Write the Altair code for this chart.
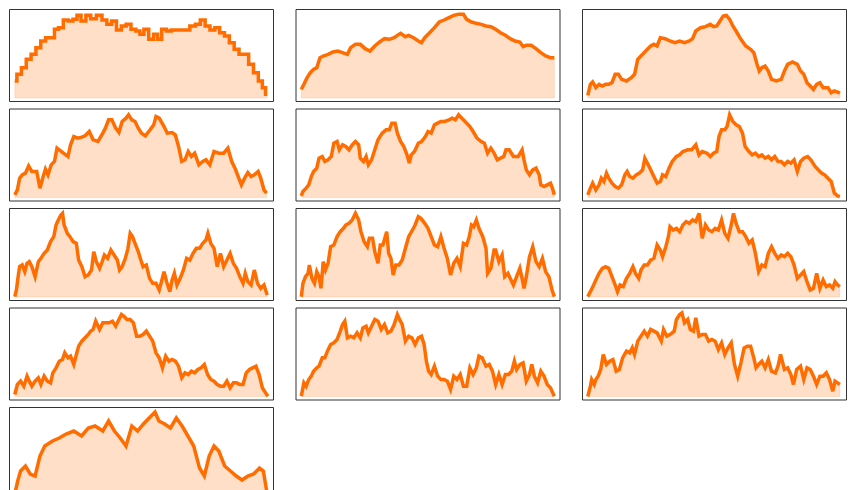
import altair as alt
import pandas as pd

# Each panel: (position, level) pairs
walk_01 = [(27,51),(40,71),(55,91),(70,116),(85,131),(100,151),(115,171),(130,181),(145,181),(155,206),(170,211),(185,234),(200,231),(215,236),(225,248),(240,231),(255,248),(270,238),(290,248),(305,234),(320,221),(335,231),(350,204),(365,216),(380,221),(395,206),(410,201),(420,191),(435,206),(450,176),(465,191),(475,176),(490,206),(505,201),(520,204),(540,204),(560,204),(580,216),(595,221),(610,234),(625,216),(640,204),(655,211),(670,196),(685,186),(700,166),(715,146),(730,131),(745,131),(760,101),(775,76),(790,51),(800,31),(810,11)]
walk_02 = [(27,26),(35,41),(45,61),(55,76),(65,86),(75,91),(85,121),(95,126),(110,131),(125,138),(140,141),(155,136),(170,131),(180,151),(195,161),(210,161),(225,148),(240,141),(255,156),(270,168),(285,178),(300,176),(315,181),(325,188),(335,194),(350,184),(360,188),(375,181),(390,171),(400,166),(410,181),(425,196),(440,211),(455,228),(470,234),(485,241),(500,248),(515,251),(530,251),(540,236),(555,228),(570,224),(585,221),(600,216),(615,214),(630,206),(645,196),(660,188),(675,178),(690,171),(705,168),(715,154),(725,158),(740,158),(755,148),(770,136),(785,126),(800,121),(812,121)]
walk_03 = [(27,8),(35,41),(42,48),(52,31),(62,41),(72,36),(82,41),(92,41),(102,46),(112,71),(122,71),(132,56),(147,51),(162,61),(172,71),(182,116),(197,131),(212,146),(222,156),(232,161),(242,156),(252,181),(267,178),(282,171),(297,166),(312,171),(327,166),(342,171),(352,178),(362,201),(377,211),(392,214),(407,221),(417,214),(427,216),(437,231),(447,246),(457,248),(467,236),(477,216),(487,201),(502,176),(517,156),(532,146),(542,136),(552,101),(559,81),(567,91),(577,96),(587,81),(597,56),(612,51),(627,56),(637,81),(647,101),(662,108),(677,101),(687,81),(697,71),(707,46),(717,36),(727,26),(737,41),(747,46),(757,31),(772,31),(782,16),(792,21),(802,18),(809,14)]
walk_04 = [(27,8),(35,23),(42,58),(50,68),(60,73),(70,95),(80,78),(95,78),(105,28),(115,63),(122,85),(130,68),(140,98),(150,108),(158,148),(165,143),(178,133),(192,123),(200,158),(210,183),(222,178),(235,181),(245,185),(258,198),(270,173),(285,168),(300,193),(308,208),(318,233),(328,233),(340,208),(350,195),(360,228),(372,238),(380,248),(390,233),(400,228),(410,208),(420,193),(432,185),(445,201),(458,218),(465,243),(475,238),(490,213),(500,193),(515,195),(525,188),(535,153),(545,108),(555,113),(565,138),(575,123),(585,133),(598,98),(610,108),(620,113),(632,98),(645,138),(660,133),(675,133),(688,148),(700,108),(710,88),(720,63),(730,38),(740,58),(750,75),(760,63),(770,68),(782,78),(790,58),(800,23),(808,13)]
walk_05 = [(27,5),(32,18),(42,28),(50,38),(58,63),(65,78),(75,88),(82,118),(92,123),(100,108),(110,113),(120,123),(128,163),(138,168),(145,143),(155,158),(165,153),(175,143),(185,158),(195,168),(205,158),(210,118),(220,108),(228,123),(235,98),(245,113),(255,143),(265,173),(278,193),(290,203),(300,203),(308,223),(318,223),(325,193),(335,168),(345,153),(355,128),(362,103),(368,128),(378,138),(390,163),(400,168),(412,183),(420,198),(430,193),(440,218),(450,223),(460,228),(472,228),(485,233),(495,238),(505,233),(515,248),(525,238),(535,228),(550,213),(560,198),(572,178),(585,168),(595,163),(605,133),(615,148),(625,133),(635,113),(645,118),(655,123),(662,143),(672,143),(685,123),(700,123),(712,143),(718,113),(725,83),(735,68),(745,83),(755,88),(765,68),(770,38),(780,33),(790,38),(800,43),(806,28),(812,8)]
walk_06 = [(27,8),(35,28),(42,43),(52,23),(62,38),(69,58),(77,48),(85,73),(92,58),(102,43),(112,33),(122,28),(132,38),(142,68),(149,78),(157,63),(167,58),(177,68),(187,73),(197,83),(204,118),(212,103),(222,83),(232,63),(242,43),(252,48),(259,68),(269,63),(279,88),(289,108),(302,123),(312,128),(322,138),(337,143),(349,143),(362,158),(372,128),(382,138),(397,133),(407,123),(417,133),(427,138),(434,183),(442,203),(452,203),(459,213),(467,248),(477,228),(487,218),(497,213),(507,193),(515,153),(527,138),(537,128),(547,133),(557,123),(567,128),(577,118),(587,123),(597,113),(607,123),(617,108),(627,108),(637,98),(647,108),(657,103),(667,113),(677,78),(687,108),(697,118),(709,123),(719,113),(732,93),(742,83),(752,73),(762,68),(772,58),(782,48),(792,13),(802,5),(809,3)]
walk_07 = [(27,1),(32,21),(38,66),(42,91),(50,96),(58,76),(65,101),(72,106),(80,91),(90,61),(100,106),(108,116),(118,131),(128,141),(138,166),(148,181),(155,216),(162,231),(170,246),(175,251),(180,216),(190,191),(198,181),(208,166),(218,161),(225,111),(235,91),(245,61),(255,66),(265,81),(272,136),(280,106),(290,86),(298,106),(305,126),(315,116),(325,141),(335,126),(345,111),(352,81),(360,91),(370,116),(378,146),(385,191),(392,181),(400,161),(410,136),(418,111),(425,91),(435,96),(445,56),(455,41),(465,41),(475,21),(482,46),(490,76),(498,46),(508,16),(515,51),(522,71),(530,36),(540,56),(550,81),(560,116),(570,111),(580,131),(590,146),(600,146),(610,161),(620,171),(626,191),(635,161),(645,146),(655,91),(665,131),(675,91),(685,111),(695,131),(705,101),(715,86),(725,61),(735,41),(742,71),(750,46),(760,36),(770,81),(780,41),(790,26),(800,36),(810,6)]
walk_08 = [(27,1),(32,41),(40,61),(48,71),(52,96),(60,56),(68,41),(75,76),(82,61),(88,26),(95,106),(102,81),(110,101),(118,151),(128,156),(138,181),(148,196),(158,206),(165,216),(175,221),(185,231),(195,251),(205,231),(212,196),(222,166),(232,151),(238,176),(248,176),(255,136),(265,101),(272,156),(280,156),(292,196),(298,131),(305,116),(312,66),(320,96),(330,96),(340,111),(350,146),(360,181),(372,201),(380,216),(390,241),(398,236),(410,221),(420,206),(430,181),(440,156),(450,151),(460,181),(470,146),(480,116),(490,66),(500,101),(510,116),(520,91),(530,161),(540,156),(548,181),(555,216),(562,211),(570,231),(578,206),(590,181),(600,146),(605,71),(615,86),(625,141),(630,141),(640,106),(650,126),(658,61),(668,71),(675,56),(685,36),(695,61),(705,86),(712,56),(718,26),(725,61),(735,121),(745,151),(755,106),(765,91),(775,116),(785,76),(795,61),(805,21),(812,1)]
walk_09 = [(27,1),(35,16),(45,36),(52,51),(62,71),(72,86),(82,91),(92,86),(102,61),(112,36),(119,16),(127,36),(137,31),(147,56),(157,71),(167,91),(175,71),(185,56),(192,81),(202,96),(212,96),(222,111),(232,116),(242,156),(252,141),(259,121),(269,151),(277,181),(282,211),(292,201),(302,206),(312,196),(322,216),(332,226),(342,221),(352,231),(362,226),(372,251),(382,176),(392,216),(402,201),(412,196),(422,206),(432,201),(442,231),(452,191),(462,176),(472,216),(479,251),(487,221),(497,196),(507,196),(517,181),(527,161),(537,171),(547,131),(557,76),(567,96),(577,91),(587,131),(597,151),(607,131),(617,116),(627,126),(637,121),(647,131),(657,121),(667,96),(677,56),(687,66),(697,76),(707,46),(717,21),(727,26),(737,71),(747,26),(757,51),(767,31),(777,36),(787,26),(794,46),(802,36),(809,31)]
walk_10 = [(27,6),(35,36),(45,46),(55,31),(65,61),(72,46),(80,31),(90,46),(100,56),(108,36),(118,61),(128,46),(138,41),(145,71),(155,86),(165,106),(175,111),(182,131),(192,116),(200,121),(210,96),(218,126),(225,151),(235,166),(245,176),(255,186),(262,196),(270,201),(278,226),(290,201),(300,221),(310,221),(320,221),(330,226),(340,211),(350,231),(358,246),(365,241),(375,231),(385,231),(395,221),(405,181),(415,181),(425,186),(435,196),(445,181),(455,166),(465,131),(475,116),(485,86),(495,121),(505,106),(515,111),(525,106),(535,91),(545,56),(555,71),(565,66),(575,76),(585,71),(595,81),(605,86),(615,96),(625,66),(635,51),(645,46),(655,36),(665,31),(675,31),(685,46),(695,26),(705,41),(715,41),(725,36),(735,36),(745,71),(755,81),(765,86),(775,91),(785,66),(795,26),(805,11),(812,1)]
walk_11 = [(27,1),(35,41),(42,31),(50,51),(58,61),(65,76),(75,86),(82,91),(92,116),(100,116),(108,136),(118,156),(128,161),(138,171),(148,196),(155,216),(162,226),(170,176),(180,181),(190,176),(200,191),(210,176),(218,206),(228,211),(235,191),(245,211),(255,231),(265,226),(275,201),(285,216),(295,191),(305,196),(315,216),(325,246),(332,231),(340,216),(350,166),(360,181),(370,176),(380,156),(390,176),(400,181),(408,156),(415,106),(422,76),(430,66),(440,91),(450,61),(460,51),(470,51),(480,46),(490,21),(500,61),(510,51),(520,66),(530,31),(540,31),(550,86),(560,66),(570,86),(578,121),(588,116),(600,91),(610,96),(620,76),(630,36),(640,66),(650,36),(660,66),(670,66),(680,76),(688,106),(695,81),(705,96),(715,101),(725,46),(735,66),(742,96),(750,61),(760,41),(770,76),(780,61),(790,36),(800,26),(812,1)]
walk_12 = [(27,0),(35,31),(39,51),(47,36),(52,51),(59,61),(67,81),(75,126),(85,96),(95,106),(105,111),(115,76),(125,81),(135,116),(147,136),(157,131),(165,146),(172,126),(182,166),(192,181),(202,196),(212,181),(222,201),(232,196),(242,191),(255,166),(262,201),(272,181),(282,186),(295,196),(302,231),(312,246),(319,251),(327,221),(337,231),(345,201),(355,196),(362,236),(372,181),(382,186),(392,186),(402,166),(412,171),(422,166),(432,141),(442,161),(452,126),(462,146),(472,161),(482,96),(492,61),(502,101),(512,146),(522,151),(532,151),(542,116),(549,86),(557,96),(567,106),(577,86),(587,111),(597,76),(609,71),(617,91),(625,126),(637,81),(647,86),(657,66),(665,36),(675,81),(687,91),(697,51),(707,86),(717,81),(727,61),(737,36),(747,61),(757,61),(767,71),(777,51),(787,16),(794,46),(802,41),(809,36)]
walk_13 = [(27,6),(36,45),(45,75),(60,90),(75,66),(90,60),(105,120),(120,150),(144,165),(165,174),(186,186),(210,195),(234,180),(255,204),(276,210),(300,195),(318,225),(336,195),(354,174),(372,150),(390,210),(408,195),(426,216),(444,234),(462,252),(474,225),(492,216),(510,204),(528,234),(546,210),(564,180),(582,150),(600,84),(615,60),(630,120),(645,150),(660,135),(678,90),(696,75),(714,60),(732,48),(750,60),(768,66),(786,84),(798,75),(810,6)]

walks = [walk_01, walk_02, walk_03, walk_04, walk_05, walk_06, walk_07,
         walk_08, walk_09, walk_10, walk_11, walk_12, walk_13]

LINE = "#ff6d00"
FILL = "#ffdfc8"


def panel(i, pts):
    df = pd.DataFrame(pts, columns=["t", "v"])
    interp = "step" if i == 0 else "linear"
    base = alt.Chart(df).encode(
        x=alt.X("t:Q", axis=None,
                scale=alt.Scale(domain=[9, 828], nice=False, zero=False)),
        y=alt.Y("v:Q", axis=None,
                scale=alt.Scale(domain=[-9, 267], nice=False, zero=False)),
    )
    area = base.mark_area(interpolate=interp, fill=FILL, stroke=LINE,
                          strokeOpacity=0.15, strokeWidth=1, clip=True)
    line = base.mark_line(interpolate=interp, color=LINE, strokeWidth=3.5,
                          strokeJoin="miter", clip=True)
    return (area + line).properties(width=264, height=92)


chart = alt.concat(*[panel(i, w) for i, w in enumerate(walks)],
                   columns=3, spacing={"row": 5.5, "column": 20.5}
                   ).properties(padding=0
                   ).configure_view(stroke="#333", strokeWidth=1)

chart.save("out.html", embed_options={"renderer": "svg", "actions": False})
